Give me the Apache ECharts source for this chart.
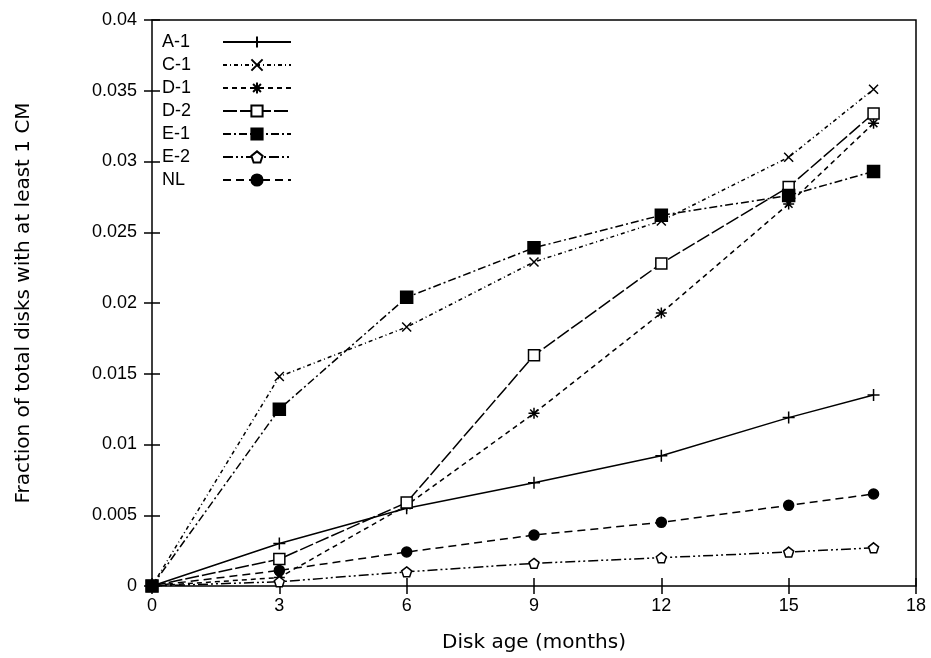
<!DOCTYPE html>
<html><head><meta charset="utf-8">
<script src="https://cdn.jsdelivr.net/npm/echarts@6/dist/echarts.min.js"></script>
<style>html,body{margin:0;padding:0;background:#fff}#c{width:931px;height:658px}</style>
</head><body><div id="c"></div>
<script>
const ages = [0, 3, 6, 9, 12, 15, 17];
const seriesNames = ['A-1', 'C-1', 'D-1', 'D-2', 'E-1', 'E-2', 'NL'];
const A1 = [0, 0.0030, 0.0055, 0.0073, 0.0092, 0.0119, 0.0135];
const C1 = [0, 0.0148, 0.0183, 0.0229, 0.0258, 0.0303, 0.0351];
const D1 = [0, 0.0006, 0.0057, 0.0122, 0.0193, 0.0270, 0.0327];
const D2 = [0, 0.0019, 0.0059, 0.0163, 0.0228, 0.0282, 0.0334];
const E1 = [0, 0.0125, 0.0204, 0.0239, 0.0262, 0.0276, 0.0293];
const E2 = [0, 0.0003, 0.0010, 0.0016, 0.0020, 0.0024, 0.0027];
const NL = [0, 0.0011, 0.0024, 0.0036, 0.0045, 0.0057, 0.0065];
const xTicks = [0, 3, 6, 9, 12, 15, 18];
const xTitle = 'Disk age (months)';
const yTitle = 'Fraction of total disks with at least 1 CM';

const values = [A1, C1, D1, D2, E1, E2, NL];
const styles = [
  {symbol: 'path://M0,5L10,5M5,0L5,10', size: 12, fill: '#000', dash: 'solid'},
  {symbol: 'path://M0,0L10,10M10,0L0,10', size: 9, fill: '#000', dash: [4, 3, 1, 3]},
  {symbol: 'path://M0,5L10,5M5,0L5,10M1.5,1.5L8.5,8.5M8.5,1.5L1.5,8.5', size: 11, fill: '#000', dash: [5, 4]},
  {symbol: 'rect', size: 11, fill: '#fff', dash: [14, 3]},
  {symbol: 'rect', size: 12, fill: '#000', dash: [8, 3, 2, 3]},
  {symbol: 'path://M5,0L10,4L8,10L2,10L0,4Z', size: 10, fill: '#fff', dash: [10, 3, 2, 3, 2, 3]},
  {symbol: 'circle', size: 10, fill: '#000', dash: [8, 5]}
];

const font = 'Liberation Sans, Arial, sans-serif';
const titleFont = 'DejaVu Sans, sans-serif';
const chart = echarts.init(document.getElementById('c'), null, {renderer: 'canvas'});
const series = seriesNames.map((n, i) => ({
  name: n,
  type: 'line',
  data: ages.map((a, j) => [a, values[i][j]]),
  symbol: styles[i].symbol,
  symbolSize: styles[i].size,
  showAllSymbol: true,
  itemStyle: {color: styles[i].fill, borderColor: '#000', borderWidth: 1.5},
  lineStyle: {color: '#000', width: 1.5, type: styles[i].dash},
  emphasis: {disabled: true},
  animation: false
}));

chart.setOption({
  animation: false,
  backgroundColor: '#fff',
  grid: {left: 152, right: 15, top: 20, bottom: 70, show: true, borderColor: '#000', borderWidth: 1.5},
  legend: {
    orient: 'vertical', left: 157, top: 28, align: 'right',
    itemWidth: 68, itemHeight: 14, itemGap: 5,
    formatter: '{a|{name}}',
    textStyle: {fontFamily: font, fontSize: 18, color: '#000',
      rich: {a: {width: 56, align: 'left', fontFamily: font, fontSize: 18, color: '#000'}}},
    data: seriesNames
  },
  xAxis: [{
    type: 'value', min: 0, max: 18, interval: 3,
    name: xTitle, nameLocation: 'middle', nameGap: 47,
    nameTextStyle: {fontFamily: titleFont, fontSize: 20, color: '#000'},
    axisLine: {show: false},
    axisTick: {inside: true, length: 8, lineStyle: {color: '#000', width: 1.5}},
    axisLabel: {fontFamily: font, fontSize: 18, color: '#000', margin: 11,
      formatter: v => xTicks.includes(v) ? String(v) : ''},
    splitLine: {show: false}
  }, {
    type: 'value', min: 0, max: 18, interval: 3, position: 'top',
    axisLine: {show: false},
    axisTick: {inside: true, length: 8, lineStyle: {color: '#000', width: 1.5}},
    axisLabel: {show: false}, splitLine: {show: false}
  }],
  yAxis: [{
    type: 'value', min: 0, max: 0.04, interval: 0.005,
    name: yTitle, nameLocation: 'middle', nameGap: 118, nameRotate: 90,
    nameTextStyle: {fontFamily: titleFont, fontSize: 20, color: '#000'},
    axisLine: {show: false},
    axisTick: {inside: true, length: 8, lineStyle: {color: '#000', width: 1.5}},
    axisLabel: {fontFamily: font, fontSize: 18, color: '#000', margin: 15},
    splitLine: {show: false}
  }, {
    type: 'value', min: 0, max: 0.04, interval: 0.005, position: 'right',
    axisLine: {show: false},
    axisTick: {inside: true, length: 8, lineStyle: {color: '#000', width: 1.5}},
    axisLabel: {show: false}, splitLine: {show: false}
  }],
  series: series
});
</script></body></html>
